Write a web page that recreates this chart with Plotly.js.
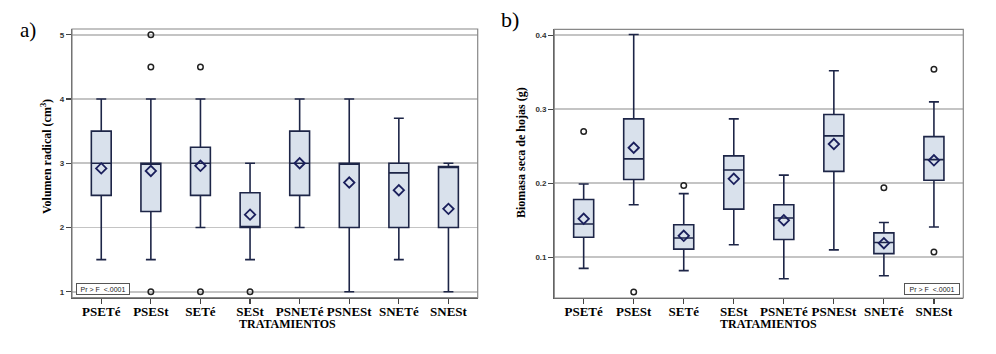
<!DOCTYPE html>
<html>
<head>
<meta charset="utf-8">
<script src="https://cdn.plot.ly/plotly-3.0.1.min.js"></script>
<style>html,body{margin:0;padding:0;background:#fff;}#chart{width:996px;height:354px;}</style>
</head>
<body>
<div id="chart"></div>
<script>
// ---------- DATA ----------
const categories = ['PSETé','PSESt','SETé','SESt','PSNETé','PSNESt','SNETé','SNESt'];

// Panel a) Volumen radical (cm3)
const aLower  = [1.5, 1.5, 2.0, 1.5, 2.0, 1.0, 1.5, 1.0];
const aQ1     = [2.5, 2.25, 2.5, 2.0, 2.5, 2.0, 2.0, 2.0];
const aMedian = [3.0, 3.0, 3.0, 2.0, 3.0, 3.0, 2.85, 2.95];
const aQ3     = [3.5, 3.0, 3.25, 2.54, 3.5, 3.0, 3.0, 2.95];
const aUpper  = [4.0, 4.0, 4.0, 3.0, 4.0, 4.0, 3.7, 3.0];
const aMean   = [2.92, 2.88, 2.96, 2.2, 3.0, 2.7, 2.58, 2.29];
const aOutCat = ['PSESt','PSESt','PSESt','SETé','SETé','SESt'];
const aOutVal = [1.0, 4.5, 5.0, 1.0, 4.5, 1.0];
const aTicks  = [1, 2, 3, 4, 5];
const aTickText = ['1','2','3','4','5'];

// Panel b) Biomasa seca de hojas (g)
const bLower  = [0.085, 0.171, 0.082, 0.117, 0.071, 0.110, 0.075, 0.141];
const bQ1     = [0.127, 0.205, 0.111, 0.165, 0.124, 0.216, 0.105, 0.204];
const bMedian = [0.145, 0.233, 0.126, 0.218, 0.153, 0.264, 0.120, 0.232];
const bQ3     = [0.178, 0.287, 0.144, 0.237, 0.171, 0.293, 0.133, 0.263];
const bUpper  = [0.199, 0.401, 0.186, 0.287, 0.211, 0.352, 0.147, 0.310];
const bMean   = [0.152, 0.248, 0.129, 0.206, 0.150, 0.253, 0.119, 0.231];
const bOutCat = ['PSETé','PSESt','SETé','SNETé','SNESt','SNESt'];
const bOutVal = [0.270, 0.053, 0.197, 0.194, 0.354, 0.107];
const bTicks  = [0.1, 0.2, 0.3, 0.4];
const bTickText = ['0.1','0.2','0.3','0.4'];

const pvalText = 'Pr > F  <.0001';
const xTitle = 'TRATAMIENTOS';
const aYTitle = 'Volumen radical (cm<sup>3</sup>)';
const bYTitle = 'Biomasa seca de hojas (g)';

// ---------- STYLE ----------
const W = 996, H = 354;
const px = v => v / W;
const py = v => 1 - v / H;
const boxFill = '#d9e1ec';
const boxLine = '#1d2547';
const gridCol = '#c4c4c4';
const serif = 'Liberation Serif, Times New Roman, serif';
const sans = 'Liberation Sans, Arial, sans-serif';

function boxTrace(xa, ya, lo, q1, med, q3, up) {
  return {
    type: 'box', x: categories, q1: q1, median: med, q3: q3,
    lowerfence: lo, upperfence: up,
    xaxis: xa, yaxis: ya, boxpoints: false,
    width: 0.4, whiskerwidth: 0.5,
    fillcolor: boxFill, line: {color: boxLine, width: 1.6},
    hoverinfo: 'skip', showlegend: false
  };
}
function meanTrace(xa, ya, m) {
  return {type: 'scatter', mode: 'markers', x: categories, y: m, xaxis: xa, yaxis: ya,
    marker: {symbol: 'diamond-open', size: 8, color: '#1a1f5c', line: {width: 1.8, color: '#1a1f5c'}},
    showlegend: false, hoverinfo: 'skip'};
}
function outTrace(xa, ya, c, v) {
  return {type: 'scatter', mode: 'markers', x: c, y: v, xaxis: xa, yaxis: ya,
    marker: {symbol: 'circle-open', size: 5.5, color: '#222', line: {width: 1.5, color: '#222'}},
    showlegend: false, hoverinfo: 'skip'};
}

const data = [
  boxTrace('x', 'y', aLower, aQ1, aMedian, aQ3, aUpper),
  outTrace('x', 'y', aOutCat, aOutVal),
  meanTrace('x', 'y', aMean),
  boxTrace('x2', 'y2', bLower, bQ1, bMedian, bQ3, bUpper),
  outTrace('x2', 'y2', bOutCat, bOutVal),
  meanTrace('x2', 'y2', bMean)
];

const xCommon = {
  type: 'category', categoryorder: 'array', categoryarray: categories,
  showgrid: false, zeroline: false,
  showline: true, linecolor: '#555', linewidth: 1.2,
  ticks: 'outside', ticklen: 5, tickwidth: 1.2, tickcolor: '#444',
  ticklabelstandoff: -4,
  tickfont: {family: serif, size: 13, color: '#000', weight: 'bold'},
  fixedrange: true
};
const yCommon = {
  showgrid: true, gridcolor: gridCol, gridwidth: 1.6, zeroline: false,
  showline: true, linecolor: '#555', linewidth: 1.2,
  ticks: 'outside', ticklen: 5, tickwidth: 1.2, tickcolor: '#444',
  tickfont: {family: sans, size: 8, color: '#333', weight: 'bold'},
  fixedrange: true
};

function ann(text, x, y, font, extra) {
  return Object.assign({text: text, xref: 'paper', yref: 'paper', x: px(x), y: py(y),
    xanchor: 'center', yanchor: 'middle', showarrow: false, font: font}, extra || {});
}
const titleFont = {family: serif, size: 12, color: '#000', weight: 'bold'};
const pFont = {family: sans, size: 7, color: '#222'};

const layout = {
  width: W, height: H,
  margin: {l: 0, r: 0, t: 0, b: 0},
  paper_bgcolor: '#fff', plot_bgcolor: '#fff',
  showlegend: false,
  xaxis: Object.assign({}, xCommon, {domain: [px(72), px(477.7)], range: [-0.59, 7.59], anchor: 'y'}),
  yaxis: Object.assign({}, yCommon, {domain: [py(297.7), py(29)], range: [0.907, 5.09], tickvals: aTicks, ticktext: aTickText, anchor: 'x'}),
  xaxis2: Object.assign({}, xCommon, {domain: [px(554.3), px(963.3)], range: [-0.587, 7.587], anchor: 'y2'}),
  yaxis2: Object.assign({}, yCommon, {domain: [py(298), py(29.3)], range: [0.045, 0.408], tickvals: bTicks, ticktext: bTickText, anchor: 'x2'}),
  shapes: [
    {type: 'rect', xref: 'x domain', yref: 'y domain', x0: 0, x1: 1, y0: 0, y1: 1, line: {color: '#888', width: 1.2}, layer: 'above'},
    {type: 'rect', xref: 'x2 domain', yref: 'y2 domain', x0: 0, x1: 1, y0: 0, y1: 1, line: {color: '#888', width: 1.2}, layer: 'above'}
  ],
  annotations: [
    ann('a)', 28, 30, {family: serif, size: 21, color: '#000'}),
    ann('b)', 510, 19, {family: serif, size: 22, color: '#000'}),
    ann(aYTitle, 46, 157, titleFont, {textangle: -90}),
    ann(bYTitle, 521, 153, titleFont, {textangle: -90}),
    ann(xTitle, 287, 324, titleFont),
    ann(xTitle, 768, 324, titleFont),
    ann(pvalText, 103, 289, pFont, {width: 50, height: 8, borderpad: 1, bordercolor: '#555', borderwidth: 1, bgcolor: '#fff'}),
    ann(pvalText, 932, 289, pFont, {width: 52, height: 8, borderpad: 1, bordercolor: '#555', borderwidth: 1, bgcolor: '#fff'})
  ]
};

Plotly.newPlot('chart', data, layout, {staticPlot: true, displayModeBar: false});
</script>
</body>
</html>
